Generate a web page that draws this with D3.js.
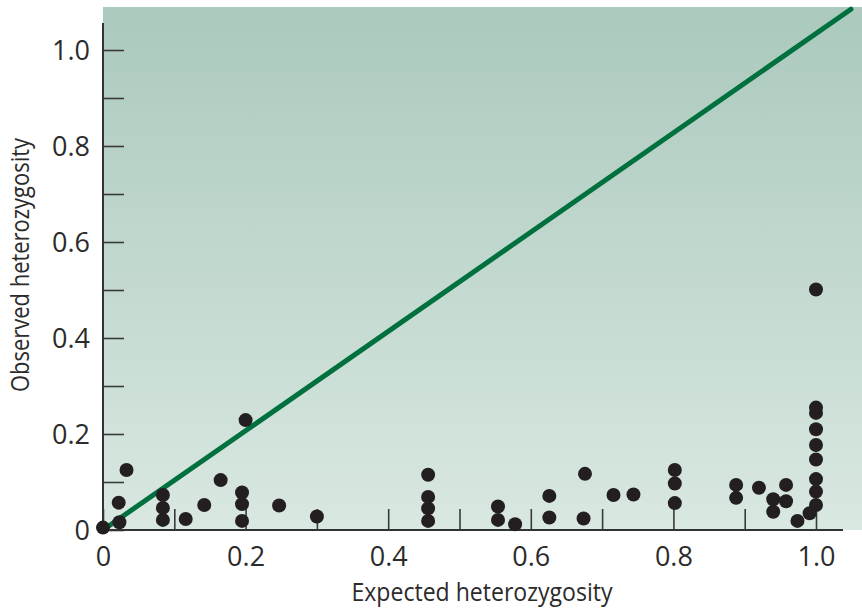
<!DOCTYPE html>
<html>
<head>
<meta charset="utf-8">
<script src="https://cdn.jsdelivr.net/npm/d3@7"></script>
<style>
  body { margin: 0; background: #fff; }
  svg text { font-family: "Open Sans", "Noto Sans", sans-serif; fill: #2b2b2b; }
</style>
</head>
<body>
<div id="chart"></div>
<script>
// expected vs observed heterozygosity
const expected = [0, 0.022, 0.023, 0.033,
    0.084, 0.084, 0.084, 0.116, 0.142, 0.165,
    0.195, 0.195, 0.195, 0.200, 0.247, 0.300,
    0.456, 0.456, 0.456, 0.456,
    0.554, 0.554, 0.578, 0.626, 0.626, 0.676, 0.674, 0.716, 0.744,
    0.802, 0.802, 0.802, 0.888, 0.888, 0.920, 0.940, 0.940, 0.958, 0.958, 0.974, 0.991,
    1.0, 1.0, 1.0, 1.0, 1.0, 1.0, 1.0, 1.0, 1.0]
const observed = [0.005, 0.057, 0.016, 0.125,
    0.073, 0.046, 0.021, 0.023, 0.052, 0.104,
    0.078, 0.054, 0.019, 0.229, 0.051, 0.028,
    0.115, 0.069, 0.045, 0.019,
    0.049, 0.021, 0.012, 0.071, 0.026, 0.117, 0.024, 0.073, 0.074,
    0.125, 0.097, 0.056, 0.094, 0.067, 0.088, 0.064, 0.038, 0.094, 0.060, 0.019, 0.035,
    0.501, 0.255, 0.244, 0.210, 0.177, 0.147, 0.106, 0.080, 0.052]
// the diagonal drawn on the chart (start and end, in data units)
const lineX = [0, 1.049]
const lineY = [0, 1.085]
const tickValues = [0.1, 0.2, 0.3, 0.4, 0.5, 0.6, 0.7, 0.8, 0.9, 1.0]
const labelValues = [0, 0.2, 0.4, 0.6, 0.8, 1.0]

const width = 862
const height = 609

const x = d3.scaleLinear().domain([0, 1]).range([103, 816])
const y = d3.scaleLinear().domain([0, 1]).range([530, 50])

const svg = d3.select('#chart').append('svg')
    .attr('width', width)
    .attr('height', height)

const grad = svg.append('defs').append('linearGradient')
    .attr('id', 'bg')
    .attr('x1', 0).attr('y1', 0).attr('x2', 0).attr('y2', 1)
grad.append('stop').attr('offset', '0%').attr('stop-color', '#abc9bd')
grad.append('stop').attr('offset', '100%').attr('stop-color', '#d9e8e1')

svg.append('rect')
    .attr('x', 103).attr('y', 7)
    .attr('width', width - 103).attr('height', 530 - 7)
    .attr('fill', 'url(#bg)')

const fmt = d => d === 0 ? '0' : d3.format('.1f')(d)

// axes: ticks point inwards, labels only every 0.2
const xAxis = d3.axisBottom(x)
    .tickValues(tickValues.concat([0]))
    .tickSizeInner(-21)
    .tickSizeOuter(0)
    .tickPadding(17)
    .tickFormat(d => labelValues.some(v => Math.abs(v - d) < 1e-9) ? fmt(d) : '')

const yAxis = d3.axisLeft(y)
    .tickValues(tickValues.concat([0]))
    .tickSizeInner(-21)
    .tickSizeOuter(0)
    .tickPadding(13)
    .tickFormat(d => labelValues.some(v => Math.abs(v - d) < 1e-9) ? fmt(d) : '')

const gx = svg.append('g').attr('transform', 'translate(0,530)').call(xAxis)
const gy = svg.append('g').attr('transform', 'translate(103,0)').call(yAxis)

;[gx, gy].forEach(g => {
    g.select('.domain').remove()
    g.selectAll('.tick line').attr('stroke', '#3a3a3a').attr('stroke-width', 1.6)
    g.selectAll('.tick text').style('font-size', '27px').attr('fill', '#2b2b2b')
})
gy.selectAll('.tick text').attr('dy', '0.36em')

// axis lines are longer than the domain
svg.append('line')
    .attr('x1', 103).attr('x2', 843).attr('y1', 530).attr('y2', 530)
    .attr('stroke', '#333').attr('stroke-width', 2)
svg.append('line')
    .attr('x1', 103).attr('x2', 103).attr('y1', 23).attr('y2', 530)
    .attr('stroke', '#333').attr('stroke-width', 2)

// diagonal
svg.append('line')
    .attr('x1', x(lineX[0])).attr('y1', y(lineY[0]))
    .attr('x2', x(lineX[1])).attr('y2', y(lineY[1]))
    .attr('stroke', '#00703f')
    .attr('stroke-width', 5)
    .attr('stroke-linecap', 'round')

svg.append('g')
    .selectAll('circle')
    .data(expected.map((e, i) => [e, observed[i]]))
    .enter()
    .append('circle')
    .attr('cx', d => x(d[0]))
    .attr('cy', d => y(d[1]))
    .attr('r', 7)
    .attr('fill', '#231f20')

svg.append('text')
    .attr('x', 482).attr('y', 601)
    .attr('text-anchor', 'middle')
    .attr('textLength', 261)
    .attr('lengthAdjust', 'spacingAndGlyphs')
    .style('font-size', '25px')
    .text('Expected heterozygosity')

svg.append('text')
    .attr('transform', 'translate(29,265) rotate(-90)')
    .attr('text-anchor', 'middle')
    .attr('textLength', 254)
    .attr('lengthAdjust', 'spacingAndGlyphs')
    .style('font-size', '25px')
    .text('Observed heterozygosity')
</script>
</body>
</html>
